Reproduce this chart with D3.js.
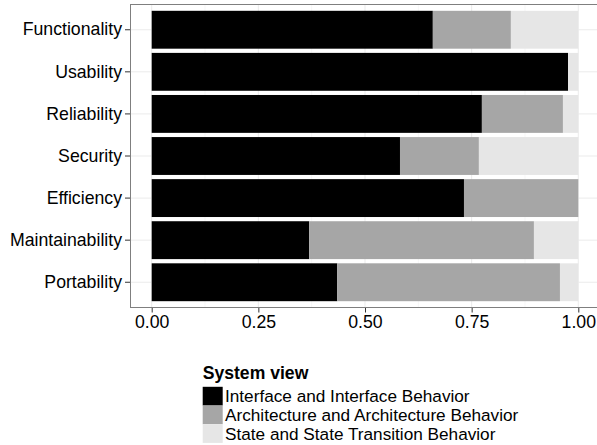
<!DOCTYPE html>
<html>
<head>
<meta charset="utf-8">
<script src="https://cdn.jsdelivr.net/npm/d3@7"></script>
<style>
  html, body { margin: 0; padding: 0; background: #fff; }
  svg { display: block; font-family: "Liberation Sans", Arial, Helvetica, sans-serif; }
</style>
</head>
<body>
<svg id="chart" width="597" height="445"></svg>
<script>
// ---- data ----
const categories = ["Functionality", "Usability", "Reliability", "Security", "Efficiency", "Maintainability", "Portability"];
const seriesNames = ["Interface and Interface Behavior", "Architecture and Architecture Behavior", "State and State Transition Behavior"];
const interfaceVals    = [0.659, 0.976, 0.774, 0.582, 0.732, 0.369, 0.435];
const architectureVals = [0.183, 0.000, 0.190, 0.185, 0.268, 0.527, 0.522];
const stateVals        = [0.158, 0.024, 0.036, 0.233, 0.000, 0.104, 0.043];
const xTicks = [0, 0.25, 0.5, 0.75, 1];
const xTickLabels = ["0.00", "0.25", "0.50", "0.75", "1.00"];
const xMinorTicks = [0.125, 0.375, 0.625, 0.875];
const legendTitle = "System view";
const fills = ["#000000", "#a6a6a6", "#e6e6e6"];

const rows = categories.map((c, i) => ({
  cat: c,
  [seriesNames[0]]: interfaceVals[i],
  [seriesNames[1]]: architectureVals[i],
  [seriesNames[2]]: stateVals[i]
}));

const svg = d3.select("#chart");

const panel = { left: 130.5, top: 4.5, bottom: 307.5 };
const x = d3.scaleLinear().domain([0, 1]).range([151.7, 578.3]);
const panelRight = x(1.05);
const y = d3.scaleBand().domain(categories)
  .range([panel.top, panel.bottom])
  .paddingInner(0.1).paddingOuter(0.15);

const color = d3.scaleOrdinal().domain(seriesNames).range(fills);

// panel background
svg.append("rect").attr("x", panel.left).attr("y", panel.top)
  .attr("width", panelRight - panel.left).attr("height", panel.bottom - panel.top)
  .attr("fill", "#fff");

// grid
const grid = svg.append("g");
grid.selectAll("line.minor").data(xMinorTicks).join("line")
  .attr("x1", d => x(d)).attr("x2", d => x(d))
  .attr("y1", panel.top).attr("y2", panel.bottom)
  .attr("stroke", "#f7f7f7").attr("stroke-width", 1);
grid.selectAll("line.majx").data(xTicks).join("line")
  .attr("x1", d => x(d)).attr("x2", d => x(d))
  .attr("y1", panel.top).attr("y2", panel.bottom)
  .attr("stroke", "#ebebeb").attr("stroke-width", 1);
grid.selectAll("line.majy").data(categories).join("line")
  .attr("x1", panel.left).attr("x2", panelRight)
  .attr("y1", d => y(d) + y.bandwidth() / 2).attr("y2", d => y(d) + y.bandwidth() / 2)
  .attr("stroke", "#ebebeb").attr("stroke-width", 1);

// bars
const stack = d3.stack().keys(seriesNames);
const stacked = stack(rows);
svg.append("g").selectAll("g").data(stacked).join("g")
  .attr("fill", d => color(d.key))
  .selectAll("rect").data(d => d).join("rect")
  .attr("x", d => x(d[0]))
  .attr("width", d => Math.max(0, x(d[1]) - x(d[0])))
  .attr("y", d => y(d.data.cat))
  .attr("height", y.bandwidth());

// panel border
svg.append("rect").attr("x", panel.left).attr("y", panel.top)
  .attr("width", panelRight - panel.left).attr("height", panel.bottom - panel.top)
  .attr("fill", "none").attr("stroke", "#7f7f7f").attr("stroke-width", 1);

// axes
const yAxis = svg.append("g").attr("transform", `translate(${panel.left - 0.5},0)`)
  .call(d3.axisLeft(y).tickSize(5).tickPadding(3));
const xAxis = svg.append("g").attr("transform", `translate(0,${panel.bottom + 0.5})`)
  .call(d3.axisBottom(x).tickValues(xTicks).tickFormat((d, i) => xTickLabels[i]).tickSize(4.5).tickPadding(3));
[yAxis, xAxis].forEach(a => {
  a.select(".domain").remove();
  a.selectAll(".tick line").attr("stroke", "#333");
  a.selectAll(".tick text").attr("fill", "#000").style("font-size", "17.7px")
    .style("font-family", '"Liberation Sans", Arial, Helvetica, sans-serif');
});

// legend
const lg = svg.append("g").attr("transform", "translate(202.7,0)");
lg.append("text").attr("x", 0).attr("y", 379)
  .style("font-weight", "bold").style("font-size", "17.6px").attr("fill", "#000")
  .text(legendTitle);
const keyH = 18.7, keyW = 20, keyTop = 386.8;
lg.selectAll("rect.key").data(seriesNames).join("rect")
  .attr("x", 0).attr("y", (d, i) => keyTop + i * keyH)
  .attr("width", keyW).attr("height", keyH)
  .attr("fill", d => color(d));
lg.selectAll("text.lab").data(seriesNames).join("text")
  .attr("x", keyW + 2.3).attr("y", (d, i) => keyTop + i * keyH + keyH / 2 + 6)
  .style("font-size", "17.2px").attr("fill", "#000")
  .text(d => d);
</script>
</body>
</html>
